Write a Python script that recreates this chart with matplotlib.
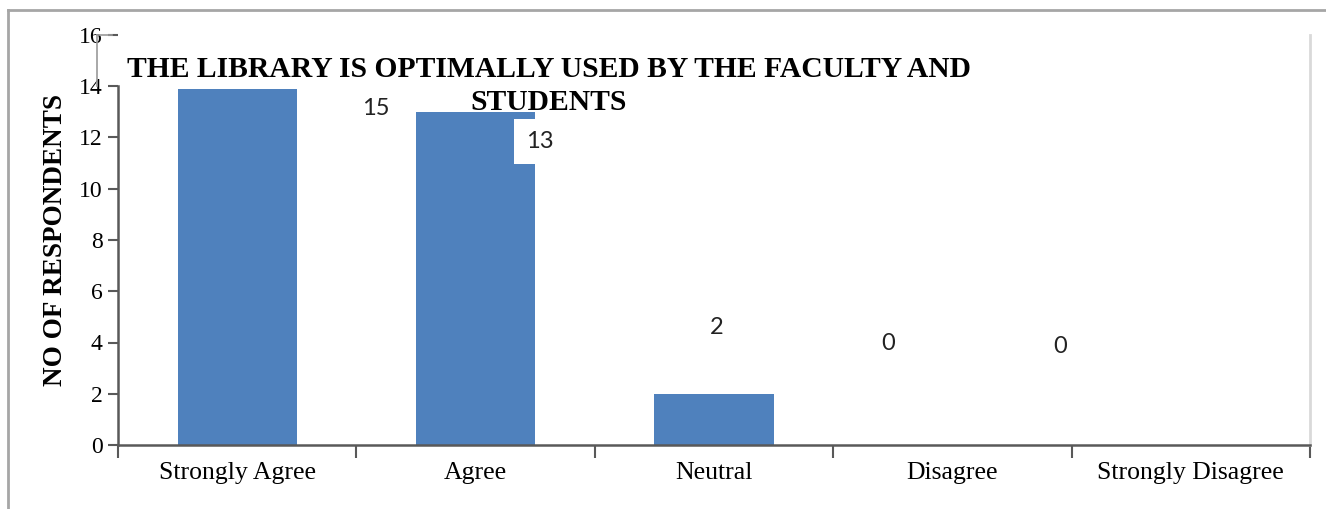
import numpy as np
import matplotlib.pyplot as plt
from matplotlib.lines import Line2D
import matplotlib.transforms as mtransforms

categories = ['Strongly Agree', 'Agree', 'Neutral', 'Disagree', 'Strongly Disagree']
respondents = [15, 13, 2, 0, 0]
yticks = [0, 2, 4, 6, 8, 10, 12, 14, 16]
title_lines = ['THE LIBRARY IS OPTIMALLY USED BY THE FACULTY AND', 'STUDENTS']

# where each value label sits (data coords)
label_pos = [(0.58, 13.15), (1.27, 11.85), (2.01, 4.6), (2.73, 3.98), (3.45, 3.86)]

serif = 'Liberation Serif'
bar_color = '#4f81bd'
axis_color = '#595959'

fig = plt.figure(figsize=(13.26, 5.09), dpi=100)
ax = fig.add_axes([118 / 1326, 1 - 445 / 509, (1310 - 118) / 1326, (445 - 35) / 509])

x = np.arange(len(categories))
ax.bar(x, respondents, width=0.5, color=bar_color, zorder=2)

ax.set_xlim(-0.5, len(categories) - 0.5)
ax.set_ylim(0, 16)

# category labels in the middle, tick marks on the boundaries
ax.set_xticks(x)
ax.set_xticklabels(categories, fontfamily=serif, fontsize=18.5)
ax.set_xticks(np.arange(len(categories) + 1) - 0.5, minor=True)
ax.tick_params(axis='x', which='major', length=0, pad=12)
ax.tick_params(axis='x', which='minor', length=9, width=1.5, color=axis_color)

ax.set_yticks(yticks)
ax.set_yticklabels([str(t) for t in yticks], fontfamily=serif, fontsize=17)
ax.tick_params(axis='y', length=7, width=1.5, color=axis_color, pad=4)

for side in ['left', 'bottom']:
    ax.spines[side].set_color(axis_color)
    ax.spines[side].set_linewidth(1.8)
ax.spines['left'].set_bounds(0, 14)
ax.spines['top'].set_visible(False)
ax.spines['right'].set_color('#d9d9d9')
ax.spines['right'].set_linewidth(2)

# stray segment of the value axis between 14 and 16
trans = mtransforms.blended_transform_factory(ax.transAxes, ax.transData)
ax.add_line(Line2D([-0.0176, -0.0176], [14, 16], transform=trans, color='#9a9a9a',
                   lw=1.2, clip_on=False))
ax.add_line(Line2D([-0.0176, -0.005], [16, 16], transform=trans, color='#9a9a9a',
                   lw=1.2, clip_on=False))

ax.set_ylabel('NO OF RESPONDENTS', fontfamily=serif, fontsize=19.5, fontweight='bold',
              labelpad=8)

for i, (lx, ly) in enumerate(label_pos):
    bbox = None
    if i == 1:
        bbox = dict(boxstyle='square,pad=0.5', facecolor='white', edgecolor='none')
    ax.text(lx, ly, str(respondents[i]), ha='center', va='center', fontfamily='Lato',
            fontsize=17, color='#222222', bbox=bbox, zorder=4)

# title drawn over the plot on a white box
fig.text(549 / 1326, 1 - 77 / 509, title_lines[0], ha='center', va='baseline',
         fontfamily=serif, fontsize=21.3, fontweight='bold', zorder=5,
         bbox=dict(boxstyle='square,pad=0.2', facecolor='white', edgecolor='none'))
fig.text(549 / 1326, 1 - 110 / 509, title_lines[1], ha='center', va='baseline',
         fontfamily=serif, fontsize=21.3, fontweight='bold', zorder=5)

# outer frame
fig.add_artist(Line2D([8 / 1326, 1], [1 - 10 / 509, 1 - 10 / 509], color='#a6a6a6', lw=2))
fig.add_artist(Line2D([8 / 1326, 8 / 1326], [0, 1 - 10 / 509], color='#a6a6a6', lw=2))

fig.savefig('out.png', dpi=100)
